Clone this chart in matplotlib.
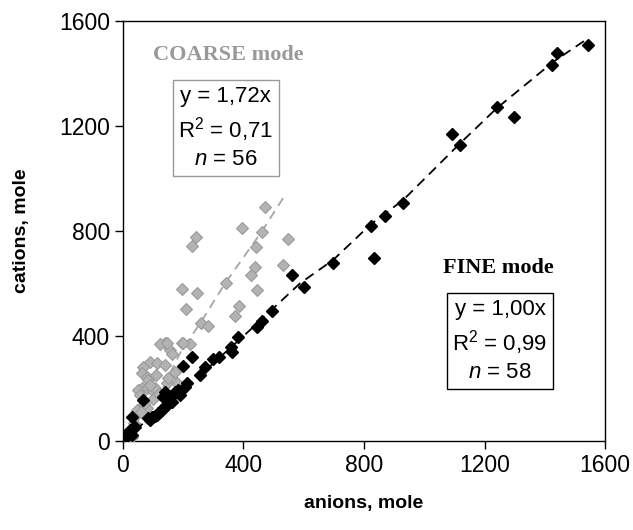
import matplotlib
matplotlib.use("Agg")
import matplotlib.pyplot as plt

# FINE mode (black) samples: anions, cations
FINE_X = [1545, 1440, 1425, 1240, 1299, 1093, 1119, 930, 870, 822, 833, 698, 601, 560,
          496, 462, 444, 383, 357, 363, 319, 300, 272, 256, 230,
          211, 206, 200, 173, 184, 189, 139,
          84, 95, 106, 117, 128, 139, 150, 134, 145, 162, 156, 67, 29, 23, 18, 29, 40, 34,
          90, 100, 112, 122, 133, 145, 8, 12]
FINE_Y = [1509, 1477, 1432, 1271, 1236, 1168, 1128, 908, 857, 820, 696, 677, 588, 634,
          495, 458, 433, 395, 359, 340, 319, 311, 281, 251, 321,
          220, 207, 286, 188, 194, 175, 188,
          86, 90, 95, 106, 118, 131, 144, 169, 156, 150, 162, 156, 93, 42, 29, 23, 54, 48,
          80, 92, 100, 112, 125, 138, 10, 18]

# COARSE mode (grey) samples
COARSE_X = [471, 394, 460, 549, 241, 228, 441, 438, 425, 532,
            341, 195, 245, 444, 209, 386, 372, 259, 281, 195,
            222, 139, 156, 162, 123, 145, 90, 112, 139, 67,
            173, 62, 79, 84, 178, 56, 62, 79, 95, 106,
            145, 45, 79, 23, 29, 49, 56, 200,
            100, 70, 120, 60, 35, 88, 150, 110]
COARSE_Y = [892, 810, 797, 770, 776, 744, 738, 662, 632, 672,
            603, 578, 562, 575, 502, 514, 476, 448, 439, 374,
            370, 372, 347, 331, 369, 372, 302, 296, 290, 283,
            264, 258, 245, 232, 220, 194, 201, 201, 194, 201,
            220, 118, 125, 42, 16, 194, 175, 374,
            160, 140, 180, 110, 70, 215, 240, 250]

# trend lines
FINE_LINE_X = [0, 150, 256, 422, 588, 698, 820, 930, 1119, 1240, 1429, 1545]
FINE_LINE_Y = [0, 150, 251, 423, 601, 690, 823, 918, 1134, 1267, 1445, 1535]
COARSE_LINE_X = [10, 128, 195, 256, 339, 460, 538]
COARSE_LINE_Y = [20, 194, 347, 448, 601, 797, 937]

TICKS = [0, 400, 800, 1200, 1600]

plt.rcParams['font.family'] = ['Liberation Sans', 'DejaVu Sans']
plt.rcParams['mathtext.fontset'] = 'custom'
plt.rcParams['mathtext.rm'] = 'Liberation Sans'
plt.rcParams['mathtext.it'] = 'Liberation Sans:italic'

fig = plt.figure(figsize=(6.33, 5.30), dpi=100)
ax = fig.add_axes([0.1943, 0.1679, 0.7615, 0.7925])

ax.plot(COARSE_LINE_X, COARSE_LINE_Y, color='#a6a6a6', lw=1.3, dashes=(5, 3.5), zorder=2)
ax.plot(COARSE_X, COARSE_Y, 'D', ms=6.5, mfc='#b3b3b3', mec='#9a9a9a', mew=0.8,
        ls='none', zorder=3)
ax.plot(FINE_LINE_X, FINE_LINE_Y, color='black', lw=1.3, dashes=(5.5, 3.5), zorder=4)
ax.plot(FINE_X, FINE_Y, 'D', ms=6, color='black', ls='none', zorder=5)

ax.set_xlim(0, 1600)
ax.set_ylim(0, 1600)
ax.set_xticks(TICKS)
ax.set_yticks(TICKS)
ax.tick_params(labelsize=16.5, length=6, width=1, direction='out',
               top=False, right=False)
for s in ax.spines.values():
    s.set_linewidth(1)
ax.set_xlabel('anions, mole', fontsize=14, fontweight='bold', labelpad=13)
ax.set_ylabel('cations, mole', fontsize=14, fontweight='bold', labelpad=21)

serif = ['Liberation Serif', 'DejaVu Serif']
ax.text(0.062, 0.919, 'COARSE mode', transform=ax.transAxes, fontsize=16,
        fontweight='bold', family=serif, color='#999999', ha='left', va='center')
ax.text(0.213, 0.745, 'y = 1,72x\nR$^{2}$ = 0,71\n$n$ = 56', transform=ax.transAxes,
        fontsize=16, ha='center', va='center', multialignment='center', linespacing=1.35,
        bbox=dict(boxstyle='square,pad=0.25', fc='white', ec='#999999', lw=1))

ax.text(0.779, 0.412, 'FINE mode', transform=ax.transAxes, fontsize=16,
        fontweight='bold', family=serif, color='black', ha='center', va='center')
ax.text(0.782, 0.238, 'y = 1,00x\nR$^{2}$ = 0,99\n$n$ = 58', transform=ax.transAxes,
        fontsize=16, ha='center', va='center', multialignment='center', linespacing=1.35,
        bbox=dict(boxstyle='square,pad=0.25', fc='white', ec='black', lw=1))

fig.savefig('out.png', dpi=100)
